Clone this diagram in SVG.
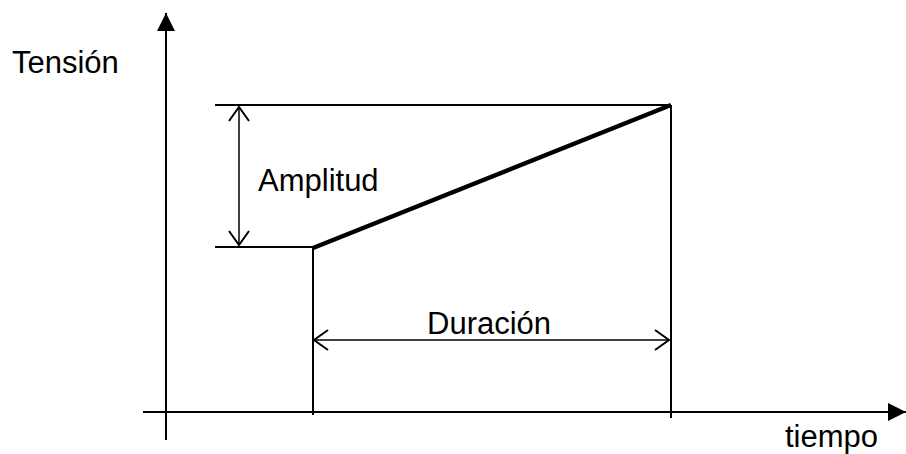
<svg xmlns="http://www.w3.org/2000/svg" width="906" height="454" viewBox="0 0 906 454">
<style>
  .ln { stroke: #000; stroke-width: 2; fill: none; }
  .thin { stroke: #000; stroke-width: 1.5; fill: none; }
  .lbl { font-family: "Liberation Sans", Arial, sans-serif; font-size: 31px; fill: #000; }
</style>
<defs>
  <marker id="solid" viewBox="0 0 10 10" refX="10" refY="5" markerWidth="18" markerHeight="18" markerUnits="userSpaceOnUse" orient="auto">
    <path d="M0,0 L10,5 L0,10 Z" fill="#000"/>
  </marker>
  <marker id="open" viewBox="0 0 16 22" refX="15" refY="11" markerWidth="16" markerHeight="22" markerUnits="userSpaceOnUse" orient="auto-start-reverse">
    <path d="M1,1 L15,11 L1,21" fill="none" stroke="#000" stroke-width="2"/>
  </marker>
</defs>
<g id="axes">
  <line class="ln" x1="166" y1="440" x2="166" y2="13" marker-end="url(#solid)"/>
  <line class="ln" x1="143" y1="412" x2="906" y2="412" marker-end="url(#solid)"/>
</g>
<g id="connectors">
  <line class="ln" x1="215" y1="105" x2="671" y2="105"/>
  <line class="ln" x1="215" y1="247" x2="313" y2="247"/>
  <line class="ln" x1="313" y1="247" x2="313" y2="415"/>
  <line class="ln" x1="671" y1="105" x2="671" y2="418"/>
  <line class="thin" x1="239" y1="107" x2="239" y2="245" marker-start="url(#open)" marker-end="url(#open)"/>
  <line class="thin" x1="314" y1="340" x2="669" y2="340" marker-start="url(#open)" marker-end="url(#open)"/>
</g>
<g id="signal">
  <line x1="313" y1="248" x2="671" y2="105" stroke="#000" stroke-width="4.5" stroke-linecap="butt"/>
</g>
<g id="labels">
  <text class="lbl" x="12" y="73">Tensión</text>
  <text class="lbl" x="258" y="191">Amplitud</text>
  <text class="lbl" x="427" y="334">Duración</text>
  <text class="lbl" x="785" y="447">tiempo</text>
</g>
</svg>
